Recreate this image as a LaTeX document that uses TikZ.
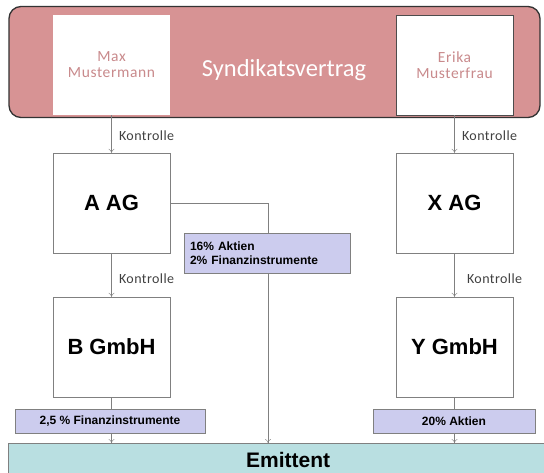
\documentclass[tikz,border=0pt]{standalone}
\usepackage{fontspec}
\setmainfont{Liberation Sans}
\newfontfamily\calibri{Carlito}
\usepackage{xcolor}
\usetikzlibrary{arrows.meta, positioning}

\definecolor{vertrag}{HTML}{D79394}
\definecolor{vertragtext}{HTML}{C98A8C}
\definecolor{linegray}{HTML}{808080}
\definecolor{lavender}{HTML}{CCCCEE}
\definecolor{emittentfill}{HTML}{B9DFE1}

\begin{document}
\begin{tikzpicture}[
	x=1pt, y=-1pt,
	firm/.style={draw=linegray, fill=white, minimum width=117pt, minimum height=100pt, font=\bfseries\fontsize{22}{24}\selectfont},
	person/.style={minimum width=117pt, minimum height=100pt, align=center, text=vertragtext, font=\calibri\fontsize{15.5}{16}\selectfont\addfontfeature{LetterSpace=4}},
	anteil/.style={draw=linegray, fill=lavender, font=\bfseries\fontsize{12}{13.5}\selectfont},
	kontrolle/.style={right, xshift=4pt, font=\calibri\fontsize{14}{16}\selectfont\addfontfeature{LetterSpace=3}, text=black!75},
	arrow/.style={-{To[length=4pt,width=6pt]}, linegray, thin}
]
	\useasboundingbox (0,0) rectangle (544,472);
	\clip (0,0) rectangle (544,472);

	% Syndikatsvertrag
	\node (syndikat) [draw=black!80, line width=1.3pt, fill=vertrag, rounded corners=12pt, minimum width=531pt, minimum height=111pt] at (274.5,62) {};
	\node (vertragtext) [text=white, font=\calibri\fontsize{24.5}{28}\selectfont] at (284,70) {Syndikatsvertrag};
	\node (max) [person, fill=white] at (111.5,65) {Max\\Mustermann};
	\node (erika) [person, fill=white, draw=black!70] at (454.5,65) {Erika\\Musterfrau};

	% Gesellschaften
	\node (aag) [firm] at (111.5,203) {A AG};
	\node (xag) [firm] at (454.5,203) {X AG};
	\node (bgmbh) [firm] at (111.5,347) {B GmbH};
	\node (ygmbh) [firm] at (454.5,347) {Y GmbH};
	\node (emittent) [draw=linegray, fill=emittentfill, minimum width=560pt, minimum height=34pt, anchor=north west, font=\bfseries\fontsize{21}{24}\selectfont] at (8,443) {Emittent};
	\coordinate (knick) at (268,203);

	% Kontrolle
	\draw [arrow] (max) -- node[kontrolle, pos=0.55] {Kontrolle} (aag);
	\draw [arrow] (erika) -- node[kontrolle, pos=0.55] {Kontrolle} (xag);
	\draw [arrow] (aag) -- node[kontrolle, pos=0.59] {Kontrolle} (bgmbh);
	\draw [arrow] (xag) -- node[kontrolle, pos=0.59, xshift=5pt] {Kontrolle} (ygmbh);

	% Beteiligungen
	\draw [arrow] (aag.east) -- (knick) -- (knick |- emittent.north);
	\draw [arrow] (bgmbh) -- (bgmbh |- emittent.north);
	\draw [arrow] (ygmbh) -- (ygmbh |- emittent.north);

	\node (lblA) [anteil, minimum width=166pt, minimum height=40pt, align=left, text width=154pt] at (267,253) {16\% Aktien\\2\% Finanzinstrumente};
	\node (lblB) [anteil, minimum width=190pt, minimum height=24pt] at (110,421) {2,5 \% Finanzinstrumente};
	\node (lblY) [anteil, minimum width=162pt, minimum height=24pt] at (454,421) {20\% Aktien};

\end{tikzpicture}
\end{document}
